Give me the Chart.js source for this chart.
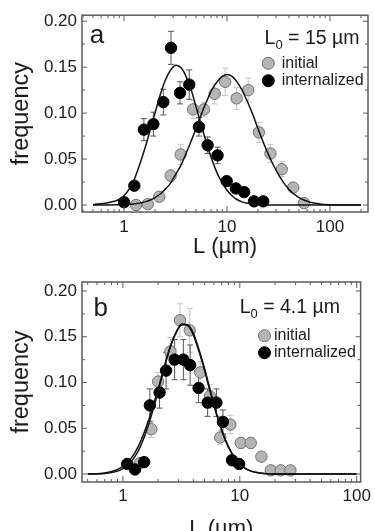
<!DOCTYPE html>
<html>
<head>
<meta charset="utf-8">
<script src="https://cdn.jsdelivr.net/npm/chart.js@4.4.1/dist/chart.umd.min.js"></script>
<style>
  html, body { margin: 0; padding: 0; background: #fff; overflow: hidden; }
  body { width: 375px; height: 531px; position: relative; }
  .panel { position: absolute; left: 0; width: 375px; }
  #panel-a { top: 0; height: 265px; }
  #panel-b { top: 265px; height: 280px; }
</style>
</head>
<body>
<div class="panel" id="panel-a"><canvas id="chart-a"></canvas></div>
<div class="panel" id="panel-b"><canvas id="chart-b"></canvas></div>
<script>
// axis ticks
const xTickValues = [1, 10, 100];
const yTickValues = [0, 0.05, 0.10, 0.15, 0.20];

// panel a (L0 = 15 um): measured points
const aIniL = [1.31, 1.7, 2.2, 2.84, 3.55, 4.7, 5.98, 7.6, 9.6, 12.4, 16.1, 20.4, 26.4, 34, 44, 56];
const aIniF = [0.000, 0.001, 0.009, 0.032, 0.055, 0.104, 0.104, 0.121, 0.134, 0.116, 0.125, 0.079, 0.056, 0.039, 0.019, 0.002];
const aIniErr = [0.002, 0.002, 0.004, 0.006, 0.011, 0.010, 0.008, 0.011, 0.015, 0.012, 0.013, 0.011, 0.010, 0.008, 0.005, 0.003];
const aIntL = [1.0, 1.26, 1.56, 1.93, 2.41, 2.86, 3.5, 4.3, 5.34, 6.49, 8.1, 9.93, 12.2, 14.7, 18.3, 22.5];
const aIntF = [0.003, 0.021, 0.082, 0.088, 0.112, 0.171, 0.122, 0.131, 0.085, 0.065, 0.054, 0.026, 0.018, 0.014, 0.004, 0.004];
const aIntErr = [0.003, 0.004, 0.012, 0.013, 0.014, 0.018, 0.012, 0.016, 0.010, 0.009, 0.009, 0.004, 0.004, 0.004, 0.002, 0.002];

// panel b (L0 = 4.1 um): measured points
const bIniL = [1.40, 1.75, 2.0, 2.55, 3.08, 3.73, 4.58, 5.55, 6.81, 8.3, 10.2, 12.4, 15.3, 18.4, 22.4, 27.1];
const bIniF = [0.012, 0.049, 0.101, 0.134, 0.168, 0.157, 0.111, 0.085, 0.040, 0.054, 0.034, 0.034, 0.019, 0.004, 0.004, 0.004];
const bIniErr = [0.004, 0.009, 0.010, 0.015, 0.018, 0.024, 0.012, 0.013, 0.008, 0.010, 0.006, 0.006, 0.004, 0.002, 0.002, 0.002];
const bIntL = [1.09, 1.27, 1.52, 1.7, 2.06, 2.34, 2.77, 3.29, 3.76, 4.44, 5.31, 6.31, 7.17, 8.58, 9.87];
const bIntF = [0.011, 0.005, 0.013, 0.075, 0.089, 0.113, 0.125, 0.125, 0.119, 0.094, 0.078, 0.078, 0.057, 0.015, 0.011];
const bIntErr = [0.003, 0.003, 0.004, 0.018, 0.017, 0.020, 0.022, 0.022, 0.022, 0.016, 0.015, 0.015, 0.013, 0.004, 0.003];

// fitted curves at these lengths
const fitLA = [0.5, 0.7, 0.9, 1.0, 1.1, 1.25, 1.4, 1.6, 1.8, 2.0, 2.25, 2.5, 2.8, 3.2, 3.6, 4.0, 4.5, 5.0, 5.6, 6.3,
  7.1, 8.0, 9.0, 10, 11.2, 12.5, 14, 16, 18, 20, 25, 32, 40, 50, 63, 80, 100, 140, 200];
const aIniFit = [0, 0.0001, 0.0003, 0.0004, 0.0007, 0.0012, 0.0019, 0.0034, 0.0054, 0.008, 0.012, 0.017, 0.023, 0.034, 0.044, 0.056, 0.070, 0.083, 0.098, 0.112,
  0.125, 0.134, 0.140, 0.142, 0.140, 0.134, 0.125, 0.111, 0.097, 0.083, 0.056, 0.032, 0.017, 0.008, 0.0033, 0.0012, 0.0004, 0.0001, 0];
const aIntFit = [0.0004, 0.0025, 0.006, 0.010, 0.016, 0.027, 0.042, 0.062, 0.082, 0.100, 0.120, 0.135, 0.146, 0.152, 0.149, 0.140, 0.125, 0.107, 0.088, 0.068,
  0.050, 0.035, 0.024, 0.016, 0.010, 0.006, 0.0034, 0.0018, 0.0009, 0.0004, 0.0001, 0, 0, 0, 0, 0, 0, 0, 0];
const fitLB = [0.5, 0.7, 0.9, 1.0, 1.1, 1.25, 1.4, 1.6, 1.8, 2.0, 2.25, 2.5, 2.8, 3.2, 3.6, 4.0, 4.5, 5.0, 5.6, 6.3,
  7.1, 8.0, 9.0, 10, 11.2, 12.5, 14, 16, 18, 20, 25, 32, 40, 50, 63, 80, 100];
const bIniFit = [0, 0.0006, 0.0032, 0.006, 0.0098, 0.018, 0.029, 0.048, 0.069, 0.090, 0.115, 0.136, 0.153, 0.164, 0.163, 0.154, 0.135, 0.115, 0.091, 0.067,
  0.046, 0.030, 0.018, 0.011, 0.006, 0.0032, 0.0016, 0.0006, 0.0003, 0, 0, 0, 0, 0, 0, 0, 0];
const bIntFit = [0.0001, 0.0012, 0.0050, 0.0085, 0.013, 0.022, 0.034, 0.053, 0.073, 0.093, 0.116, 0.136, 0.152, 0.163, 0.162, 0.152, 0.133, 0.113, 0.089, 0.066,
  0.045, 0.029, 0.018, 0.011, 0.006, 0.0032, 0.0016, 0.0006, 0.0003, 0, 0, 0, 0, 0, 0, 0, 0];

const FONT = "'Liberation Sans', Arial, Helvetica, sans-serif";
const INK = '#1c1c1c';
const FRAME = '#5c5c5c';

const pairs = (xs, ys) => xs.map((x, i) => ({ x: x, y: ys[i] }));

// vertical error bars, drawn under the markers
const errorBars = {
  id: 'errorBars',
  beforeDatasetsDraw(chart) {
    const { ctx, scales: { x, y } } = chart;
    ctx.save();
    ctx.lineWidth = 1;
    chart.data.datasets.slice().reverse().forEach((ds) => {
      if (!ds.errors) return;
      ctx.strokeStyle = ds.errorColor;
      ds.data.forEach((p, i) => {
        const e = ds.errors[i];
        const px = x.getPixelForValue(p.x);
        const top = y.getPixelForValue(p.y + e);
        const bot = y.getPixelForValue(Math.max(p.y - e, y.min));
        ctx.beginPath();
        ctx.moveTo(px, top); ctx.lineTo(px, bot);
        ctx.moveTo(px - 3, top); ctx.lineTo(px + 3, top);
        ctx.moveTo(px - 3, bot); ctx.lineTo(px + 3, bot);
        ctx.stroke();
      });
    });
    ctx.restore();
  }
};

// closed frame with inward ticks on all four sides
const frameTicks = {
  id: 'frameTicks',
  afterDatasetsDraw(chart) {
    const { ctx, chartArea: a, scales: { x, y } } = chart;
    const seg = (x1, y1, x2, y2) => { ctx.moveTo(x1, y1); ctx.lineTo(x2, y2); };
    ctx.save();
    ctx.strokeStyle = FRAME;
    ctx.lineWidth = 1;
    ctx.beginPath();
    for (let v = 0; v <= y.max; v += 0.025) {
      const py = y.getPixelForValue(v);
      const len = Math.abs(v / 0.05 - Math.round(v / 0.05)) < 1e-6 ? 5 : 3;
      seg(a.left, py, a.left + len, py);
      seg(a.right, py, a.right - len, py);
    }
    for (let d = 0.1; d <= 1000; d *= 10) {
      for (let m = 1; m <= 9; m++) {
        const v = d * m;
        if (v < x.min || v > x.max) continue;
        const px = x.getPixelForValue(v);
        const len = m === 1 ? 6 : 3;
        seg(px, a.bottom, px, a.bottom - len);
        seg(px, a.top, px, a.top + len);
      }
    }
    ctx.stroke();
    ctx.lineWidth = 1.5;
    ctx.strokeRect(a.left, a.top, a.right - a.left, a.bottom - a.top);
    ctx.restore();
  }
};

function panelText(cfg) {
  return {
    id: 'panelText',
    afterDraw(chart) {
      const ctx = chart.ctx;
      ctx.save();
      ctx.fillStyle = INK;
      ctx.textBaseline = 'alphabetic';
      ctx.textAlign = 'left';
      ctx.font = `26px ${FONT}`;
      ctx.fillText(cfg.letter, cfg.letterX, cfg.letterY);

      // L0 = ... um, subscript zero
      const big = `19.5px ${FONT}`, small = `13px ${FONT}`;
      const rest = ` = ${cfg.l0} \u00b5m`;
      ctx.font = big; const w1 = ctx.measureText('L').width; const w3 = ctx.measureText(rest).width;
      ctx.font = small; const w2 = ctx.measureText('0').width;
      let tx = cfg.l0Right - (w1 + w2 + w3);
      ctx.font = big; ctx.fillText('L', tx, cfg.l0Y); tx += w1;
      ctx.font = small; ctx.fillText('0', tx, cfg.l0Y + 5); tx += w2;
      ctx.font = big; ctx.fillText(rest, tx, cfg.l0Y);

      // legend
      const rows = [
        { text: 'initial', fill: '#b5b5b5', stroke: '#707070', y: cfg.legY },
        { text: 'internalized', fill: '#000', stroke: '#000', y: cfg.legY + cfg.legGap }
      ];
      ctx.font = `16px ${FONT}`;
      rows.forEach((r) => {
        ctx.beginPath();
        ctx.arc(cfg.legX, r.y, 6, 0, Math.PI * 2);
        ctx.fillStyle = r.fill; ctx.fill();
        ctx.lineWidth = 1; ctx.strokeStyle = r.stroke; ctx.stroke();
        ctx.fillStyle = INK;
        ctx.fillText(r.text, cfg.legTextX, r.y + 4.5);
      });
      ctx.restore();
    }
  };
}

function makePanel(canvasId, cfg) {
  const curve = (data) => ({
    data: data, showLine: true, pointRadius: 0, borderColor: '#111', borderWidth: 1.5,
    cubicInterpolationMode: 'monotone', fill: false, order: 0
  });
  return new Chart(document.getElementById(canvasId), {
    type: 'scatter',
    data: {
      datasets: [
        Object.assign(curve(pairs(cfg.fitL, cfg.iniFit)), { label: 'initial fit' }),
        Object.assign(curve(pairs(cfg.fitL, cfg.intFit)), { label: 'internalized fit' }),
        {
          label: 'internalized', data: pairs(cfg.intL, cfg.intF), errors: cfg.intErr, errorColor: '#555',
          pointRadius: 5.7, pointBackgroundColor: '#000', pointBorderColor: '#000', pointBorderWidth: 1, order: 1
        },
        {
          label: 'initial', data: pairs(cfg.iniL, cfg.iniF), errors: cfg.iniErr, errorColor: '#c4c4c4',
          pointRadius: 5.7, pointBackgroundColor: '#b5b5b5', pointBorderColor: '#707070', pointBorderWidth: 1, order: 2
        }
      ]
    },
    options: {
      responsive: true,
      maintainAspectRatio: false,
      animation: false,
      events: [],
      layout: { padding: { top: cfg.padTop, right: 7, left: 0, bottom: 0 } },
      plugins: { legend: { display: false }, tooltip: { enabled: false } },
      scales: {
        x: {
          type: 'logarithmic', min: cfg.xMin, max: cfg.xMax,
          afterBuildTicks: (s) => { s.ticks = xTickValues.map((v) => ({ value: v })); },
          afterFit: (s) => { s.height = cfg.xHeight; },
          grid: { display: false, drawTicks: false }, border: { display: false },
          ticks: { font: { family: FONT, size: 17 }, color: INK, padding: cfg.xTickPad, maxRotation: 0, autoSkip: false, callback: (v) => String(v) },
          title: { display: true, text: 'L (\u00b5m)', font: { family: FONT, size: 22 }, color: INK, padding: { top: 0, bottom: cfg.xTitlePad } }
        },
        y: {
          min: cfg.yMin, max: cfg.yMax,
          afterBuildTicks: (s) => { s.ticks = yTickValues.map((v) => ({ value: v })); },
          afterFit: (s) => { s.width = 82; },
          grid: { display: false, drawTicks: false }, border: { display: false },
          ticks: { font: { family: FONT, size: 17 }, color: INK, padding: 5, callback: (v) => v.toFixed(2) },
          title: { display: true, text: 'frequency', font: { family: FONT, size: 23.5 }, color: INK, padding: { top: 7, bottom: 0 } }
        }
      }
    },
    plugins: [errorBars, frameTicks, panelText(cfg)]
  });
}

makePanel('chart-a', {
  fitL: fitLA, iniFit: aIniFit, intFit: aIntFit,
  iniL: aIniL, iniF: aIniF, iniErr: aIniErr, intL: aIntL, intF: aIntF, intErr: aIntErr,
  xMin: 0.391, xMax: 234, yMin: -0.0076, yMax: 0.2065,
  padTop: 15, xHeight: 53, xTickPad: 5, xTitlePad: 5,
  letter: 'a', letterX: 89.7, letterY: 42.7,
  l0: '15', l0Right: 359.5, l0Y: 44,
  legX: 268.3, legY: 63.3, legGap: 17.4, legTextX: 281.7
});

makePanel('chart-b', {
  fitL: fitLB, iniFit: bIniFit, intFit: bIntFit,
  iniL: bIniL, iniF: bIniF, iniErr: bIniErr, intL: bIntL, intF: bIntF, intErr: bIntErr,
  xMin: 0.447, xMax: 108, yMin: -0.0087, yMax: 0.2098,
  padTop: 17, xHeight: 63, xTickPad: 4, xTitlePad: 2.5,
  letter: 'b', letterX: 93.5, letterY: 50.5,
  l0: '4.1', l0Right: 340, l0Y: 48.3,
  legX: 264.5, legY: 70.7, legGap: 17, legTextX: 274
});
</script>
</body>
</html>
